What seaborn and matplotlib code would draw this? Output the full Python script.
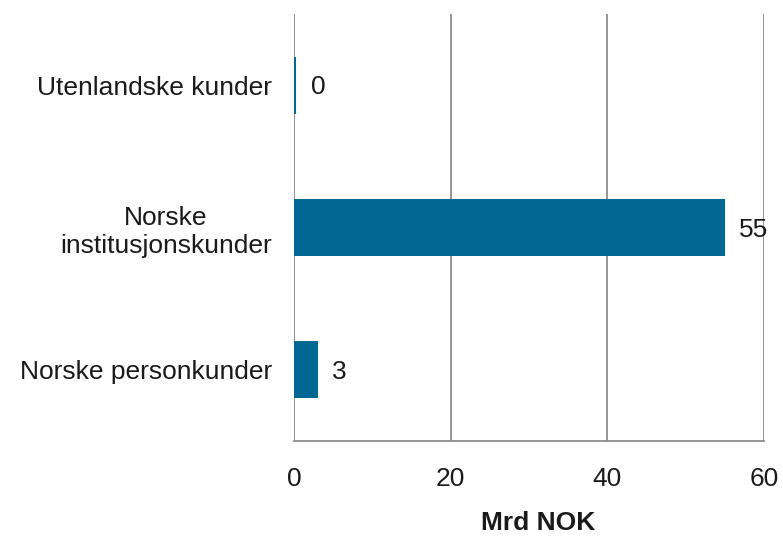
import matplotlib
matplotlib.use("Agg")
import matplotlib.pyplot as plt
import seaborn as sns
import pandas as pd

categories = ["Utenlandske kunder", "Norske\ninstitusjonskunder", "Norske personkunder"]
values = [0.25, 55, 3]
value_labels = ["0", "55", "3"]
xticks = [0, 20, 40, 60]

sns.set_theme(style="white")
plt.rcParams["font.family"] = ["Liberation Sans", "DejaVu Sans"]

df = pd.DataFrame({"cat": categories, "val": values})

fig = plt.figure(figsize=(7.83, 5.36), dpi=100)
ax = fig.add_axes([294/783, 1-441/536, 470/783, 427/536])

sns.barplot(data=df, x="val", y="cat", orient="h", color="#006892",
            saturation=1, width=0.4, linewidth=0, ax=ax)

ax.set_xlim(0, 60)
ax.set_xticks(xticks)
ax.set_xticklabels([str(t) for t in xticks], fontsize=19, color="#1a1a1a")
ax.set_ylabel("")
ax.set_xlabel("")
ax.tick_params(axis="x", length=0, pad=19)
ax.tick_params(axis="y", length=0, pad=16, labelsize=19, labelcolor="#1a1a1a")
for lab in ax.get_yticklabels():
    lab.set_multialignment("center")

ax.grid(axis="x", color="#8c8c8c", linewidth=1.3)
ax.set_axisbelow(True)
for s in ["top", "right", "left"]:
    ax.spines[s].set_visible(False)
ax.spines["bottom"].set_color("#8c8c8c")
ax.spines["bottom"].set_linewidth(1.3)

for i, (v, lab) in enumerate(zip(values, value_labels)):
    ax.annotate(lab, xy=(v, i), xytext=(10.5, -1.5), textcoords="offset points",
                ha="left", va="center", fontsize=19, color="#1a1a1a")

fig.text(538/783, 1-523/536, "Mrd NOK", ha="center", va="center",
         fontsize=19, fontweight="bold", color="#1a1a1a")

fig.savefig("out.png", dpi=100)
